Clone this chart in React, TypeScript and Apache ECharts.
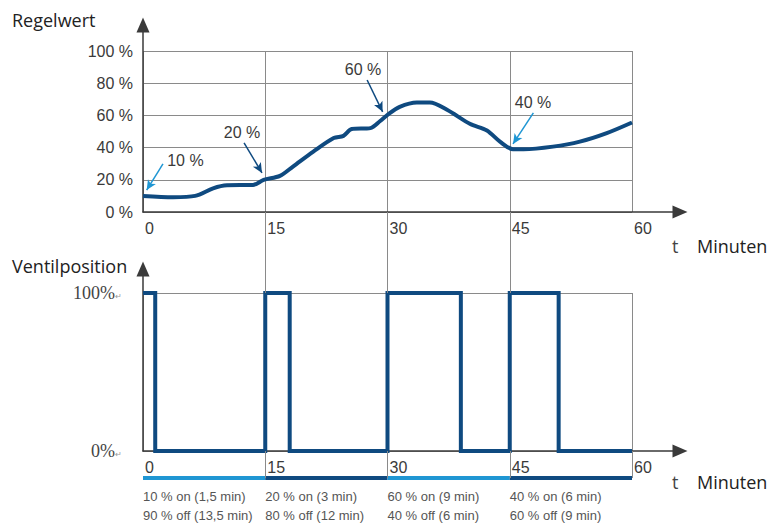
import React, { useEffect, useRef } from 'react';
import * as echarts from 'echarts';

// ---------- data ----------
const TIME_MIN = 0;
const TIME_MAX = 60;
const TIME_STEP = 15;
const REGEL_MAX = 100;
const REGEL_STEP = 20;

// Regelwert curve [minute, percent]
const REGEL_TIME = [0, 3.7, 6.4, 8.6, 10.3, 13.5, 14.8, 16.8, 18.4, 20.9, 23.4, 24.6, 25.6, 27.9, 29.1, 30, 31.5, 33.6, 35.2, 37.3, 40.1, 42.2, 43.8, 45.4, 46.7, 50.3, 53.6, 56.9, 60];
const REGEL_VALUE = [10, 9.2, 10, 14.7, 16.6, 16.8, 19.9, 22.4, 28.2, 37.5, 45.9, 47.3, 51.5, 52.1, 56.5, 60.4, 65.3, 68, 68, 63.5, 54.8, 50.6, 43.7, 39, 39, 40.6, 43.7, 49, 55.6];

// annotations on the Regelwert curve (data units: minute, percent)
const ANNOTATION_LABELS = ['10 %', '20 %', '60 %', '40 %'];
const ANNOTATION_TEXT_AT = [[5.2, 31.7], [12.15, 49.2], [27.0, 88.4], [47.85, 67.8]];
const ANNOTATION_TAIL = [[2.45, 29.9], [12.4, 42.9], [27.5, 82], [47.9, 61.6]];
const ANNOTATION_TIP = [[0.45, 13.6], [14.6, 24.3], [29.4, 62.2], [45.4, 42.3]];

// Ventilposition: PWM periods
const PERIOD_STARTS = [0, 15, 30, 45];
const PERIOD_LENGTH = 15;
const ON_MINUTES = [1.5, 3, 9, 6];
const VALVE_OPEN = 100;
const VALVE_CLOSED = 0;
const PERIOD_LABELS = [
  '10 % on (1,5 min)\n90 % off (13,5 min)',
  '20 % on (3 min)\n80 % off (12 min)',
  '60 % on (9 min)\n40 % off (6 min)',
  '40 % on (6 min)\n60 % off (9 min)',
];

// ---------- styles ----------
const NAVY = '#0f4a80';
const LIGHT = '#1f96d3';
const GRID = '#8a8a8a';
const AXIS = '#3a3a3a';
const SANS = '"Liberation Sans", Arial, sans-serif';
const TITLE_FONT = '"Open Sans", "Noto Sans", sans-serif';
const SERIF = '"Liberation Serif", "Times New Roman", serif';

function buildWave(): [number, number][] {
  const pts: [number, number][] = [];
  PERIOD_STARTS.forEach((s, i) => {
    if (i === 0) pts.push([s, VALVE_OPEN]);
    else {
      pts.push([s, VALVE_CLOSED]);
      pts.push([s, VALVE_OPEN]);
    }
    pts.push([s + ON_MINUTES[i], VALVE_OPEN]);
    pts.push([s + ON_MINUTES[i], VALVE_CLOSED]);
  });
  pts.push([TIME_MAX, VALVE_CLOSED]);
  return pts;
}

export default function App() {
  const ref = useRef<HTMLDivElement>(null);

  useEffect(() => {
    if (!ref.current) return;
    const chart = echarts.init(ref.current, undefined, { renderer: 'svg' });

    const arrowAxis = (gridIndex: number) => ({
      gridIndex,
      type: 'value',
      min: 0,
      max: 1,
      axisLine: {
        show: true,
        symbol: ['none', 'triangle'],
        symbolSize: [13, 15],
        lineStyle: { color: AXIS, width: 1.5 },
      },
      axisTick: { show: false },
      axisLabel: { show: false },
      splitLine: { show: false },
    });

    const timeAxis = (gridIndex: number) => ({
      gridIndex,
      type: 'value',
      min: TIME_MIN,
      max: TIME_MAX,
      interval: TIME_STEP,
      axisLine: { show: false },
      axisTick: { show: false },
      splitLine: { show: true, lineStyle: { color: GRID, width: 1 } },
      axisLabel: {
        show: true,
        align: 'left',
        margin: 8,
        fontSize: 16,
        color: '#3a3a3a',
        fontFamily: SANS,
        padding: [0, 0, 0, 2],
      },
    });

    const hiddenAxis = (gridIndex: number, min: number, max: number) => ({
      gridIndex,
      type: 'value',
      min,
      max,
      show: false,
    });

    const curveData = REGEL_TIME.map((t, i) => [t, REGEL_VALUE[i]]);

    const series: any[] = [
      {
        type: 'line',
        xAxisIndex: 0,
        yAxisIndex: 0,
        data: curveData,
        smooth: 0.3,
        symbol: 'none',
        z: 3,
        lineStyle: { color: NAVY, width: 4 },
        markLine: {
          silent: true,
          symbol: ['none', 'arrow'],
          symbolSize: [7, 10],
          label: { show: false },
          data: ANNOTATION_TAIL.map((tail, i) => {
            const color = i % 3 === 0 ? LIGHT : NAVY;
            return [
              { coord: tail, lineStyle: { color, width: 1.5, type: 'solid' }, itemStyle: { color } },
              { coord: ANNOTATION_TIP[i], lineStyle: { color, width: 1.5, type: 'solid' }, itemStyle: { color } },
            ];
          }),
        },
        markPoint: {
          silent: true,
          symbol: 'circle',
          symbolSize: 1,
          itemStyle: { color: 'rgba(0,0,0,0)' },
          label: {
            show: true,
            position: 'inside',
            formatter: (p: any) => p.name,
            fontSize: 16,
            color: '#3a3a3a',
            fontFamily: SANS,
          },
          data: ANNOTATION_LABELS.map((name, i) => ({ name, coord: ANNOTATION_TEXT_AT[i] })),
        },
      },
      {
        type: 'line',
        xAxisIndex: 2,
        yAxisIndex: 2,
        data: buildWave(),
        symbol: 'none',
        clip: false,
        z: 3,
        lineStyle: { color: NAVY, width: 4, join: 'miter', cap: 'butt' },
      },
      ...PERIOD_STARTS.map((s, i) => ({
        type: 'line',
        xAxisIndex: 4,
        yAxisIndex: 4,
        data: [[s, 0], [s + PERIOD_LENGTH, 0]],
        symbol: 'none',
        clip: false,
        z: 4,
        lineStyle: { color: i % 2 === 0 ? LIGHT : NAVY, width: 4 },
        markLine:
          i === 0
            ? {
                silent: true,
                symbol: 'none',
                label: { show: false },
                lineStyle: { color: GRID, width: 1, type: 'solid' },
                data: [...PERIOD_STARTS.slice(1), TIME_MAX].map((v) => ({ xAxis: v })),
              }
            : undefined,
      })),
      {
        type: 'line',
        xAxisIndex: 5,
        yAxisIndex: 5,
        data: [],
        symbol: 'none',
        markLine: {
          silent: true,
          symbol: 'none',
          label: { show: false },
          lineStyle: { color: GRID, width: 1, type: 'solid' },
          data: PERIOD_STARTS.slice(1).map((v) => ({ xAxis: v })),
        },
      },
    ];

    const option: any = {
      animation: false,
      backgroundColor: '#ffffff',
      grid: [
        { left: 143, right: 139, top: 51, bottom: 313 }, // 0 Regelwert data
        { left: 143, right: 91, top: 25, bottom: 313 }, // 1 Regelwert arrows
        { left: 143, right: 139, top: 293, bottom: 74 }, // 2 Ventil data
        { left: 143, right: 91, top: 269, bottom: 74 }, // 3 Ventil arrows
        { left: 143, right: 139, top: 451, bottom: 46 }, // 4 period strip
        { left: 143, right: 139, top: 212, bottom: 232 }, // 5 gap between charts
      ],
      xAxis: [
        timeAxis(0),
        arrowAxis(1),
        timeAxis(2),
        arrowAxis(3),
        {
          gridIndex: 4,
          type: 'value',
          min: TIME_MIN,
          max: TIME_MAX,
          interval: PERIOD_LENGTH,
          axisLine: { show: false },
          axisTick: { show: false },
          splitLine: { show: false },
          axisLabel: {
            show: true,
            align: 'left',
            verticalAlign: 'top',
            margin: 9,
            fontSize: 13,
            lineHeight: 19,
            color: '#555555',
            fontFamily: SANS,
            formatter: (v: number) => {
              const idx = PERIOD_STARTS.indexOf(v);
              return idx >= 0 ? PERIOD_LABELS[idx] : '';
            },
          },
        },
        hiddenAxis(5, TIME_MIN, TIME_MAX),
      ],
      yAxis: [
        {
          gridIndex: 0,
          type: 'value',
          min: 0,
          max: REGEL_MAX,
          interval: REGEL_STEP,
          axisLine: { show: false },
          axisTick: { show: false },
          splitLine: { show: true, lineStyle: { color: GRID, width: 1 } },
          axisLabel: {
            margin: 10,
            fontSize: 16,
            color: '#3a3a3a',
            fontFamily: SANS,
            formatter: '{value} %',
          },
        },
        arrowAxis(1),
        {
          gridIndex: 2,
          type: 'value',
          min: VALVE_CLOSED,
          max: VALVE_OPEN,
          interval: VALVE_OPEN,
          axisLine: { show: false },
          axisTick: { show: false },
          splitLine: { show: true, lineStyle: { color: GRID, width: 1 } },
          axisLabel: {
            margin: 21,
            formatter: (v: number) => `{a|${v}%}{b|↵}`,
            rich: {
              a: { fontFamily: SERIF, fontSize: 18, color: '#444444' },
              b: { fontFamily: SERIF, fontSize: 8, color: '#9a9a9a', padding: [6, 0, 0, 0] },
            },
          },
        },
        arrowAxis(3),
        hiddenAxis(4, 0, 1),
        hiddenAxis(5, 0, 1),
      ],
      graphic: [
        { type: 'text', x: 12, y: 20, style: { text: 'Regelwert', font: `18px ${TITLE_FONT}`, fill: '#222222', verticalAlign: 'middle' } },
        { type: 'text', x: 12, y: 266, style: { text: 'Ventilposition', font: `18px ${TITLE_FONT}`, fill: '#222222', verticalAlign: 'middle' } },
        { type: 'text', x: 672, y: 246, style: { text: 't', font: `18px ${TITLE_FONT}`, fill: '#444444', verticalAlign: 'middle' } },
        { type: 'text', x: 697, y: 246, style: { text: 'Minuten', font: `18px ${TITLE_FONT}`, fill: '#222222', verticalAlign: 'middle' } },
        { type: 'text', x: 672, y: 482, style: { text: 't', font: `18px ${TITLE_FONT}`, fill: '#444444', verticalAlign: 'middle' } },
        { type: 'text', x: 697, y: 482, style: { text: 'Minuten', font: `18px ${TITLE_FONT}`, fill: '#222222', verticalAlign: 'middle' } },
      ],
      series,
    };

    chart.setOption(option);
    return () => chart.dispose();
  }, []);

  return (
    <div
      ref={ref}
      style={{ position: 'absolute', left: 0, top: 0, width: 771, height: 525, background: '#fff' }}
    />
  );
}
